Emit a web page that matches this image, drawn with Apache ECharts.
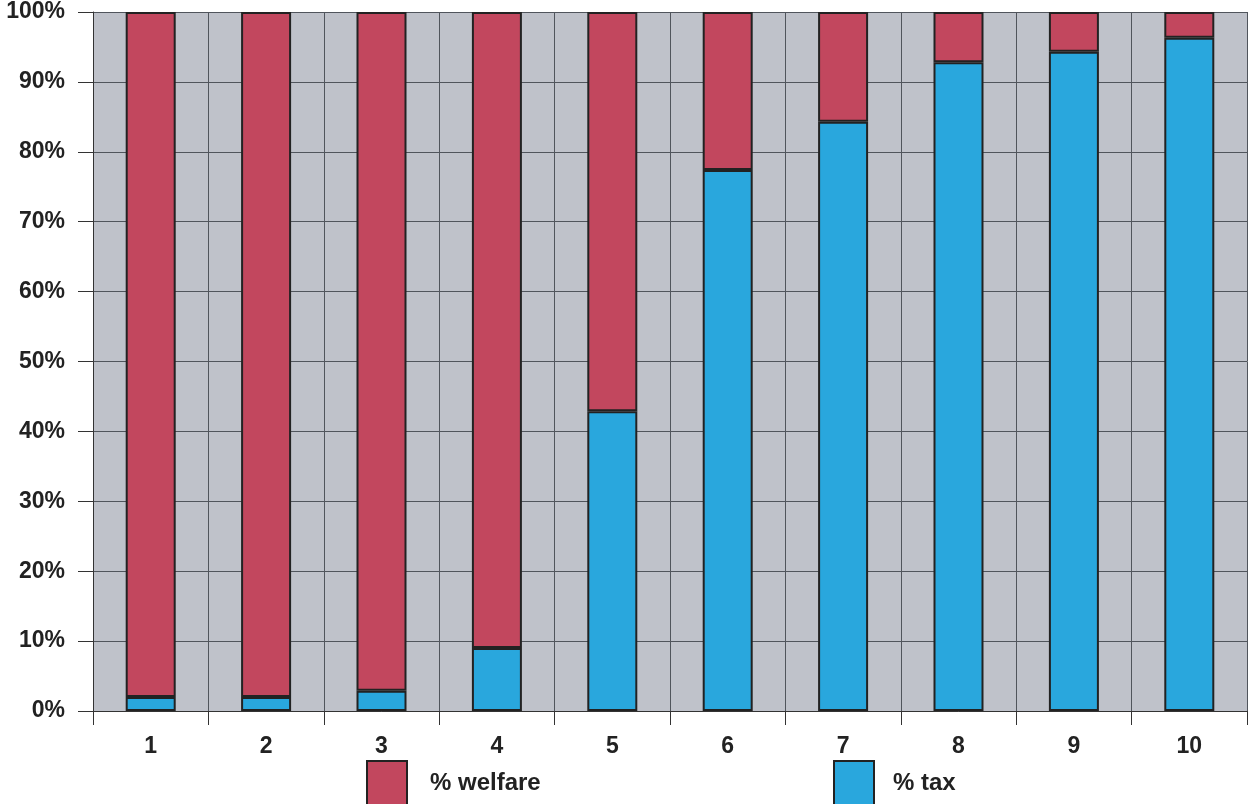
<!DOCTYPE html>
<html>
<head>
<meta charset="utf-8">
<script src="https://cdn.jsdelivr.net/npm/echarts@6/dist/echarts.min.js"></script>
<style>
  html, body { margin: 0; padding: 0; background: #ffffff; }
  #chart { width: 1256px; height: 804px; }
</style>
</head>
<body>
<div id="chart"></div>
<script>
// Income deciles 1–10: share of each decile's flows that are tax vs. welfare
const categories = ['1', '2', '3', '4', '5', '6', '7', '8', '9', '10'];
const taxShare = [2.0, 2.0, 2.9, 9.0, 42.9, 77.4, 84.3, 92.8, 94.3, 96.3];
const welfareShare = [98.0, 98.0, 97.1, 91.0, 57.1, 22.6, 15.7, 7.2, 5.7, 3.7];
const yTicks = [0, 10, 20, 30, 40, 50, 60, 70, 80, 90, 100];

const FONT = "'Liberation Sans Narrow', 'Liberation Sans', Arial, sans-serif";
const TEXT = '#222222';

const chart = echarts.init(document.getElementById('chart'), null, { renderer: 'canvas' });

const labelStyle = { fontFamily: FONT, fontWeight: 'bold', fontSize: 23, color: TEXT };

chart.setOption({
  animation: false,
  backgroundColor: '#ffffff',
  grid: {
    left: 93, right: 9, top: 12, bottom: 93,
    show: true,
    backgroundColor: '#bfc2ca',
    borderWidth: 0
  },
  legend: [
    {
      data: ['% welfare'],
      left: 361, top: 755,
      itemWidth: 40, itemHeight: 44, itemGap: 0,
      icon: 'rect',
      textStyle: Object.assign({ padding: [2, 0, 0, 18] }, labelStyle, { fontSize: 24 }),
      selectedMode: false
    },
    {
      data: ['% tax'],
      left: 828, top: 755,
      itemWidth: 40, itemHeight: 44, itemGap: 0,
      icon: 'rect',
      textStyle: Object.assign({ padding: [2, 0, 0, 14] }, labelStyle, { fontSize: 24 }),
      selectedMode: false
    }
  ],
  xAxis: {
    type: 'category',
    data: categories,
    boundaryGap: true,
    axisLine: { show: true, lineStyle: { color: '#333', width: 1 } },
    axisTick: { show: true, length: 14, lineStyle: { color: '#333', width: 1 } },
    axisLabel: Object.assign({ margin: 24 }, labelStyle),
    splitLine: { show: true, lineStyle: { color: '#50555c', width: 1 } }
  },
  yAxis: {
    type: 'value',
    min: 0, max: 100, interval: 10,
    axisLine: { show: true, lineStyle: { color: '#333', width: 1 } },
    axisTick: { show: true, length: 15, lineStyle: { color: '#333', width: 1 } },
    axisLabel: Object.assign({
      margin: 28,
      formatter: function (v) { return yTicks.indexOf(v) >= 0 ? v + '%' : ''; }
    }, labelStyle),
    splitLine: { show: true, lineStyle: { color: '#50555c', width: 1 } }
  },
  series: [
    {
      name: '% tax',
      type: 'bar',
      stack: 'share',
      data: taxShare,
      barWidth: 50,
      itemStyle: { color: '#29a7dd', borderColor: '#222222', borderWidth: 2 }
    },
    {
      name: '% welfare',
      type: 'bar',
      stack: 'share',
      data: welfareShare,
      barWidth: 50,
      itemStyle: { color: '#c2475e', borderColor: '#222222', borderWidth: 2 }
    }
  ]
});
</script>
</body>
</html>
